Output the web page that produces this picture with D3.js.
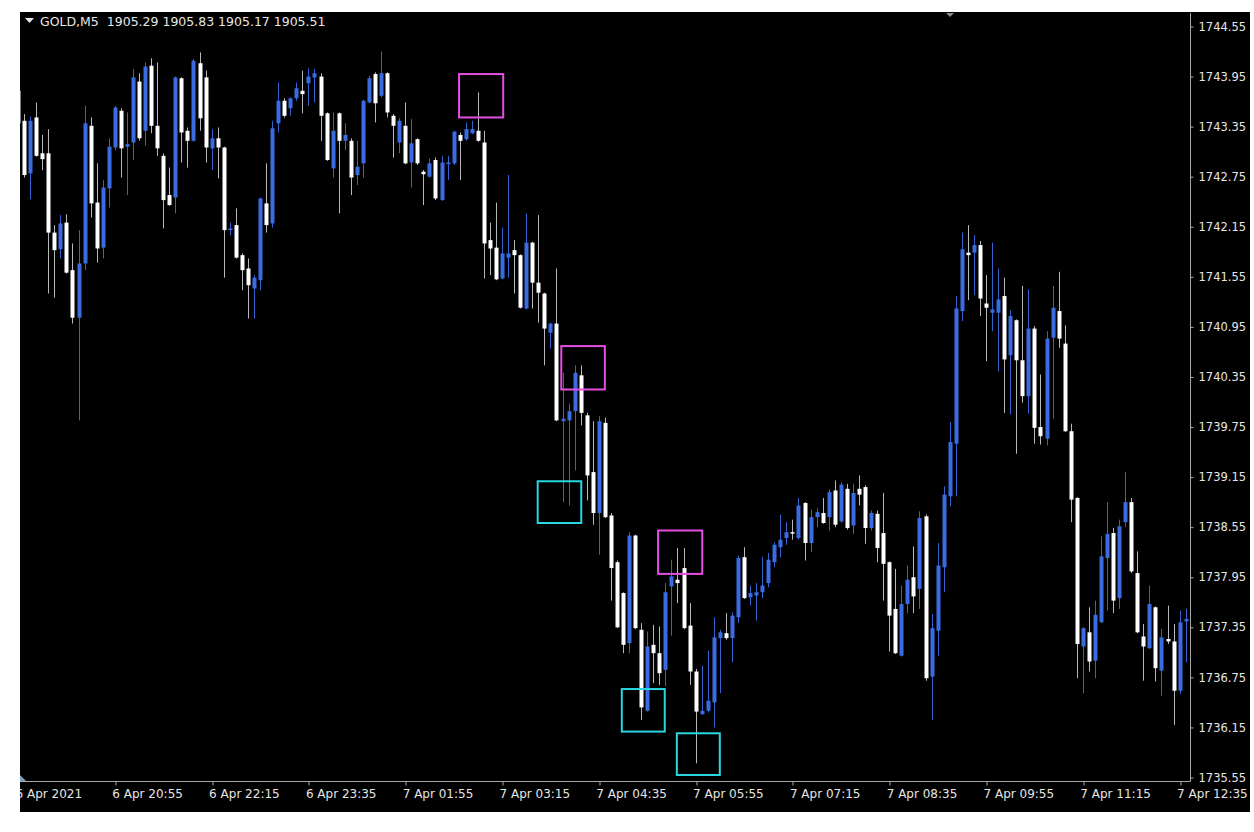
<!DOCTYPE html>
<html><head><meta charset="utf-8">
<script src="https://cdn.jsdelivr.net/npm/d3@7"></script>
<style>html,body{margin:0;padding:0;background:#fff;}svg{display:block;}</style>
</head><body>
<svg id="chart" width="1254" height="832"></svg>
<script>
// ---- data ----
const symbolTitle = "GOLD,M5";
const titleValues = ["1905.29", "1905.83", "1905.17", "1905.51"];

const opens = [1743.78,1743.42,1742.79,1743.46,1743.03,1743.03,1742.08,1741.88,1742.20,1741.63,
1741.06,1741.71,1743.36,1742.44,1741.90,1742.61,1743.10,1743.54,1743.11,1743.16,
1743.89,1743.30,1744.08,1743.36,1743.00,1742.53,1742.50,1743.93,1743.30,1743.18,
1744.11,1743.94,1743.09,1743.21,1743.10,1742.11,1742.17,1741.81,1741.65,1741.41,
1741.51,1742.43,1742.19,1743.39,1743.66,1743.57,1743.69,1743.78,1743.87,1743.94,
1743.95,1743.51,1742.85,1743.51,1743.18,1743.18,1742.77,1742.91,1743.64,1743.98,
1743.72,1743.99,1743.48,1743.16,1743.36,1742.92,1743.20,1742.81,1742.75,1742.95,
1742.47,1742.90,1742.91,1743.25,1743.20,1743.27,1743.30,1743.16,1741.99,1741.90,
1741.53,1741.78,1741.87,1741.81,1741.17,1741.96,1741.48,1741.35,1740.88,1740.99,
1739.82,1739.83,1739.94,1740.37,1739.89,1739.21,1738.72,1739.80,1738.69,1738.13,
1737.76,1737.16,1738.45,1737.32,1736.35,1737.14,1737.04,1736.84,1737.84,1737.92,
1738.06,1737.37,1736.82,1736.31,1736.35,1736.45,1737.22,1737.28,1737.22,1737.47,
1738.19,1737.71,1737.73,1737.77,1737.88,1738.13,1738.31,1738.42,1738.49,1738.42,
1738.84,1738.36,1738.67,1738.72,1738.67,1738.99,1738.62,1739.01,1738.57,1739.01,
1739.03,1738.54,1738.71,1738.48,1738.13,1737.57,1737.01,1737.63,1737.95,1737.81,
1738.68,1736.76,1737.31,1738.07,1738.92,1739.55,1741.14,1741.84,1741.84,1741.93,
1741.23,1741.12,1741.12,1741.32,1740.61,1741.03,1740.55,1740.12,1740.93,1739.75,
1739.61,1740.82,1741.14,1740.75,1739.70,1738.90,1737.12,1737.29,1736.95,1737.41,
1738.18,1738.48,1737.70,1738.61,1738.85,1738.00,1737.24,1737.10,1737.59,1736.83,
1737.21,1737.18,1736.59,1737.42];

const highs = [1743.81,1743.50,1743.47,1743.64,1743.25,1743.32,1742.17,1742.29,1742.30,1741.95,
1742.11,1743.60,1743.46,1742.91,1742.71,1743.21,1743.60,1743.57,1743.52,1744.04,
1743.99,1744.12,1744.17,1744.12,1743.03,1742.86,1743.95,1743.94,1743.34,1744.16,
1744.24,1744.02,1743.32,1743.34,1743.11,1742.20,1742.37,1741.83,1741.77,1741.57,
1742.50,1742.91,1743.42,1743.88,1743.69,1743.70,1743.88,1744.02,1744.05,1744.04,
1743.99,1743.52,1743.52,1743.52,1743.39,1743.21,1743.18,1743.67,1743.96,1744.00,
1744.25,1744.00,1743.50,1743.45,1743.64,1743.44,1743.21,1742.83,1742.97,1742.98,
1743.00,1743.00,1743.30,1743.28,1743.40,1743.42,1743.76,1743.30,1742.20,1742.44,
1742.14,1742.77,1741.99,1741.82,1742.31,1741.97,1742.29,1741.36,1741.00,1741.65,
1740.40,1740.03,1740.49,1740.49,1739.92,1739.82,1739.88,1739.86,1738.72,1738.15,
1737.77,1738.49,1738.46,1737.40,1737.30,1737.38,1737.36,1737.88,1738.16,1738.30,
1738.30,1737.64,1736.85,1736.89,1737.07,1737.47,1737.32,1737.52,1737.53,1738.21,
1738.31,1737.85,1737.88,1738.19,1738.24,1738.37,1738.70,1738.61,1738.64,1738.90,
1738.85,1738.76,1738.78,1738.90,1739.00,1739.11,1739.09,1739.07,1739.07,1739.17,
1739.05,1738.75,1738.75,1738.96,1738.14,1738.05,1737.85,1738.09,1738.32,1738.74,
1738.70,1737.51,1738.36,1739.04,1739.81,1741.32,1742.08,1742.17,1742.05,1741.98,
1741.57,1741.96,1741.65,1741.54,1741.15,1741.04,1741.44,1741.40,1740.96,1740.38,
1740.90,1741.44,1741.61,1740.97,1739.79,1738.91,1737.35,1737.59,1737.67,1738.44,
1738.85,1738.54,1738.64,1739.21,1738.90,1738.26,1737.39,1737.85,1737.60,1737.33,
1737.61,1737.39,1737.55,1737.57];

const lows = [1743.36,1742.74,1742.48,1742.99,1742.83,1741.35,1741.30,1741.77,1741.59,1740.99,
1739.83,1741.63,1742.26,1741.72,1741.77,1742.38,1743.07,1742.74,1742.53,1742.95,
1743.18,1743.12,1743.27,1743.00,1742.13,1742.40,1742.31,1742.92,1742.86,1743.17,
1743.30,1742.92,1742.83,1742.73,1741.54,1742.05,1741.77,1741.39,1741.05,1741.05,
1741.39,1742.08,1742.14,1743.28,1743.46,1743.48,1743.66,1743.51,1743.60,1743.64,
1743.18,1742.94,1742.74,1742.31,1743.07,1742.53,1742.65,1742.74,1743.63,1743.40,
1743.70,1743.46,1742.98,1743.03,1742.90,1742.62,1742.89,1742.41,1742.74,1742.47,
1742.46,1742.71,1742.89,1742.71,1743.18,1743.26,1743.17,1741.53,1741.57,1741.51,
1741.52,1741.54,1741.35,1741.17,1741.16,1741.17,1741.00,1740.49,1740.69,1739.82,
1738.85,1738.81,1739.23,1739.77,1738.87,1738.58,1738.22,1738.66,1737.67,1737.34,
1737.04,1737.04,1737.33,1736.24,1736.34,1736.68,1736.66,1736.64,1737.25,1737.64,
1737.33,1736.66,1735.72,1736.30,1736.33,1736.15,1736.56,1737.20,1736.93,1737.40,
1737.69,1737.61,1737.43,1737.70,1737.83,1738.07,1738.19,1738.34,1738.40,1738.40,
1738.15,1738.25,1738.55,1738.59,1738.51,1738.55,1738.60,1738.52,1738.47,1738.81,
1738.35,1738.51,1738.13,1737.67,1737.06,1737.03,1737.00,1737.52,1737.52,1737.57,
1736.71,1736.24,1737.01,1737.77,1738.80,1738.92,1741.02,1741.27,1741.33,1741.08,
1740.54,1740.90,1740.42,1739.92,1739.90,1739.43,1740.04,1739.91,1739.55,1739.54,
1739.53,1739.85,1740.70,1739.69,1738.61,1736.74,1736.56,1736.82,1736.74,1737.40,
1737.55,1737.52,1737.57,1738.55,1738.00,1737.28,1736.71,1737.09,1736.70,1736.53,
1737.15,1736.18,1736.55,1736.93];

const closes = [1743.39,1742.77,1743.42,1743.00,1742.96,1742.08,1741.87,1742.19,1741.60,1741.06,
1741.71,1743.39,1742.43,1741.89,1742.62,1743.11,1743.58,1743.09,1743.14,1743.94,
1743.21,1744.07,1743.36,1743.09,1742.47,1742.41,1743.94,1743.28,1743.18,1744.14,
1743.45,1743.10,1743.21,1743.10,1742.11,1742.13,1741.78,1741.63,1741.45,1741.54,
1742.49,1742.17,1743.33,1743.66,1743.48,1743.69,1743.81,1743.74,1743.95,1743.99,
1743.48,1742.95,1743.30,1743.18,1743.25,1742.74,1742.87,1743.66,1743.93,1743.63,
1743.99,1743.52,1743.36,1743.42,1742.91,1743.15,1742.91,1742.78,1742.91,1742.49,
1742.92,1742.92,1743.29,1743.18,1743.32,1743.32,1743.18,1741.95,1741.89,1741.52,
1741.83,1741.83,1741.81,1741.18,1741.96,1741.48,1741.36,1740.93,1740.99,1739.83,
1739.85,1739.94,1740.40,1739.92,1739.17,1738.72,1739.82,1738.67,1738.06,1737.35,
1737.14,1738.45,1737.34,1736.39,1737.12,1737.04,1736.80,1737.77,1737.96,1737.88,
1737.34,1736.82,1736.34,1736.35,1736.47,1737.23,1737.29,1737.22,1737.49,1738.18,
1737.70,1737.76,1737.77,1737.85,1738.16,1738.34,1738.40,1738.49,1738.48,1738.81,
1738.36,1738.67,1738.73,1738.60,1738.97,1738.58,1739.06,1738.54,1738.96,1738.94,
1738.54,1738.72,1738.30,1738.11,1737.49,1737.04,1737.63,1737.92,1737.72,1738.66,
1736.74,1737.34,1738.09,1738.94,1739.57,1741.17,1741.88,1741.81,1741.93,1741.29,
1741.18,1741.16,1741.28,1740.56,1741.08,1740.55,1740.12,1740.93,1739.74,1739.64,
1740.81,1741.18,1740.81,1739.70,1738.88,1737.15,1737.34,1736.94,1737.50,1738.20,
1738.47,1737.67,1738.56,1738.85,1738.02,1737.29,1737.12,1737.63,1736.86,1737.23,
1737.18,1736.59,1737.41,1737.45];

const priceTicks = [1744.55,1743.95,1743.35,1742.75,1742.15,1741.55,1740.95,1740.35,
1739.75,1739.15,1738.55,1737.95,1737.35,1736.75,1736.15,1735.55];

const timeTickBars = [0,16,32,48,64,80,96,112,128,144,160,176,192];
const timeTickLabels = ["6 Apr 2021","6 Apr 20:55","6 Apr 22:15","6 Apr 23:35","7 Apr 01:55",
"7 Apr 03:15","7 Apr 04:35","7 Apr 05:55","7 Apr 07:15","7 Apr 08:35","7 Apr 09:55",
"7 Apr 11:15","7 Apr 12:35"];

// highlighted zones (bar index range, price range)
const boxKinds = ["magenta","magenta","magenta","cyan","cyan","cyan"];
const boxStartBar = [72.9, 89.8, 105.8, 85.9, 99.8, 108.9];
const boxEndBar = [80.2, 97.0, 113.1, 93.1, 106.9, 116.0];
const boxTopPrice = [1743.98, 1740.72, 1738.51, 1739.10, 1736.61, 1736.08];
const boxBottomPrice = [1743.46, 1740.20, 1737.99, 1738.60, 1736.10, 1735.58];

// ---- layout ----
const W = 1254, H = 832;
const plot = {left: 20, top: 13, right: 1190, bottom: 781};
const bg = {left: 20, top: 12, right: 1250, bottom: 812};
const colUp = "#3b6be0", colUpWick = "#3463d0";
const colDn = "#ffffff", colDnWick = "#b8b8b8";
const boxColors = {magenta: "#e34ee3", cyan: "#2ad6e0"};
const textCol = "#e6e6e6", axisCol = "#a8a8a8";
const font = "'DejaVu Sans', Verdana, sans-serif";

const N = opens.length;
const candles = d3.range(N).map(i => ({i, o: opens[i], h: highs[i], l: lows[i], c: closes[i]}));

const x = d3.scaleLinear().domain([0, 193]).range([18, 1185.65]);
const y = d3.scaleLinear().domain([1735.55, 1744.55]).range([777.5, 26.5]);

const svg = d3.select("#chart");
svg.append("rect").attr("x", 0).attr("y", 0).attr("width", W).attr("height", H).attr("fill", "#fff");
svg.append("rect").attr("x", bg.left).attr("y", bg.top)
  .attr("width", bg.right - bg.left).attr("height", bg.bottom - bg.top).attr("fill", "#000");

svg.append("clipPath").attr("id", "plotclip").append("rect")
  .attr("x", plot.left).attr("y", plot.top)
  .attr("width", plot.right - plot.left).attr("height", plot.bottom - plot.top);

const gPlot = svg.append("g").attr("clip-path", "url(#plotclip)");

// wicks
gPlot.append("g").selectAll("line").data(candles).join("line")
  .attr("x1", d => Math.round(x(d.i)) + 0.5)
  .attr("x2", d => Math.round(x(d.i)) + 0.5)
  .attr("y1", d => y(d.h))
  .attr("y2", d => y(d.l))
  .attr("stroke", d => d.c >= d.o ? colUpWick : colDnWick)
  .attr("stroke-width", 1);

// bodies
const bodyW = 4;
gPlot.append("g").selectAll("rect").data(candles).join("rect")
  .attr("x", d => Math.round(x(d.i)) + 0.5 - bodyW / 2)
  .attr("y", d => y(Math.max(d.o, d.c)))
  .attr("width", bodyW)
  .attr("height", d => Math.max(1.5, Math.abs(y(d.o) - y(d.c))))
  .attr("fill", d => d.c >= d.o ? colUp : colDn);

// highlight boxes
const boxes = boxKinds.map((k, i) => ({k, x0: boxStartBar[i], x1: boxEndBar[i], p0: boxTopPrice[i], p1: boxBottomPrice[i]}));
gPlot.append("g").selectAll("rect").data(boxes).join("rect")
  .attr("x", d => x(d.x0))
  .attr("y", d => y(d.p0))
  .attr("width", d => x(d.x1) - x(d.x0))
  .attr("height", d => y(d.p1) - y(d.p0))
  .attr("fill", "none")
  .attr("stroke", d => boxColors[d.k])
  .attr("stroke-width", 2);

// frame lines
svg.append("line").attr("x1", plot.left).attr("x2", plot.right + 0.5)
  .attr("y1", plot.bottom + 0.5).attr("y2", plot.bottom + 0.5)
  .attr("stroke", axisCol).attr("stroke-width", 1);
svg.append("line").attr("x1", plot.right + 0.5).attr("x2", plot.right + 0.5)
  .attr("y1", plot.top).attr("y2", plot.bottom + 0.5)
  .attr("stroke", axisCol).attr("stroke-width", 1);

// right price axis
const yAxis = d3.axisRight(y).tickValues(priceTicks).tickSize(3).tickPadding(5)
  .tickFormat(d3.format(".2f"));
const gy = svg.append("g").attr("transform", `translate(${plot.right + 0.5},0)`).call(yAxis);
gy.select(".domain").remove();
gy.selectAll(".tick line").attr("stroke", axisCol);
gy.selectAll(".tick text").attr("fill", textCol).attr("font-family", font).attr("font-size", 11.5);

// bottom time axis
const xAxis = d3.axisBottom(x).tickValues(timeTickBars).tickSize(4).tickPadding(4)
  .tickFormat((d, i) => timeTickLabels[i]);
svg.append("clipPath").attr("id", "xclip").append("rect")
  .attr("x", plot.left).attr("y", plot.bottom).attr("width", bg.right - plot.left).attr("height", 40);
const gx = svg.append("g").attr("clip-path", "url(#xclip)")
  .append("g").attr("transform", `translate(0,${plot.bottom + 0.5})`).call(xAxis);
gx.select(".domain").remove();
gx.selectAll(".tick line").attr("stroke", axisCol)
  .attr("transform", (d) => `translate(${Math.round(x(d)) + 0.5 - x(d)},0)`);
gx.selectAll(".tick text").attr("fill", textCol).attr("font-family", font).attr("font-size", 12)
  .attr("text-anchor", "start").attr("dx", -3);

// small markers
svg.append("path").attr("d", "M946,13 L954,13 L950,17 Z").attr("fill", "#8c8c8c");
svg.append("path").attr("d", "M20,775 L20,781 L26,781 Z").attr("fill", "#7f9fc0");

// title
const gT = svg.append("g");
gT.append("path").attr("d", "M25,18 L34,18 L29.5,23 Z").attr("fill", textCol);
gT.append("text").attr("x", 40).attr("y", 26)
  .attr("fill", textCol).attr("font-family", font).attr("font-size", 12.5)
  .style("white-space", "pre")
  .text(symbolTitle + "  " + titleValues.join(" "));
</script>
</body></html>
